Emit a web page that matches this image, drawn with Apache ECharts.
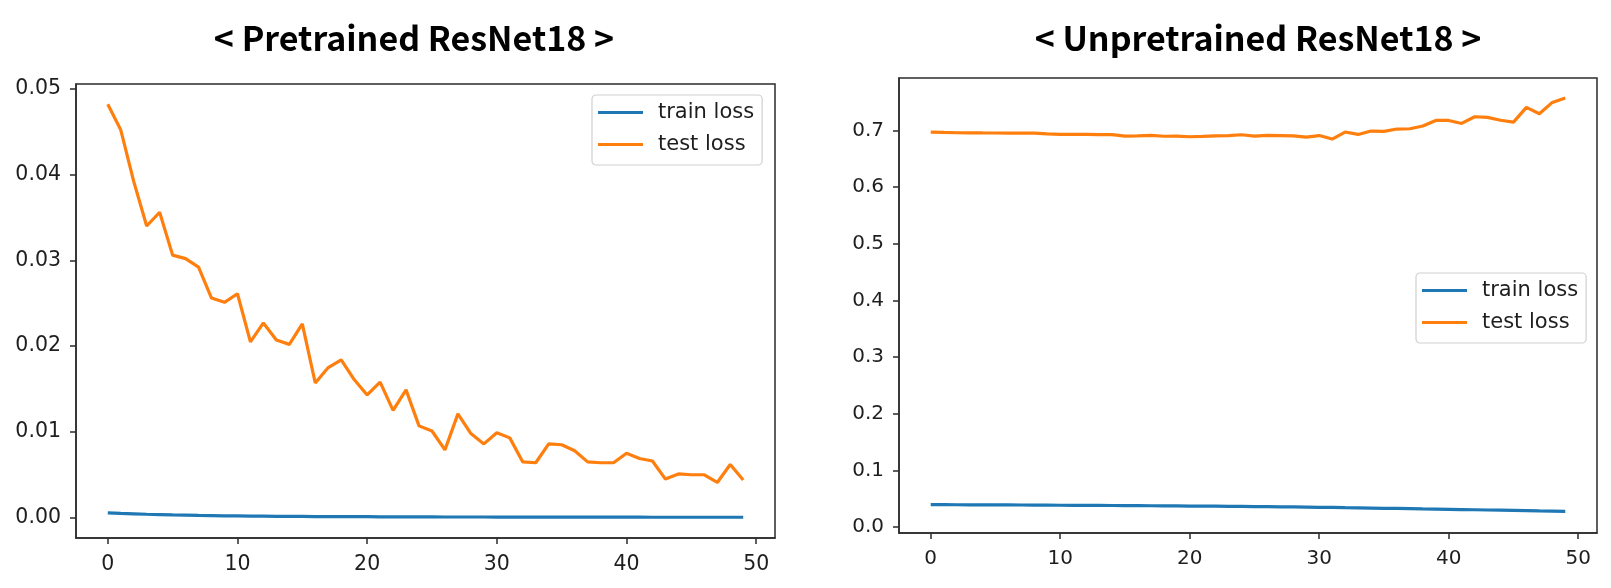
<!DOCTYPE html>
<html>
<head>
<meta charset="utf-8">
<script src="https://cdn.jsdelivr.net/npm/echarts@6/dist/echarts.min.js"></script>
<style>
  html, body { margin: 0; padding: 0; background: #fff; }
  #chart { width: 1611px; height: 588px; }
</style>
</head>
<body>
<div id="chart"></div>
<script>
// ---- data ----
const epochs = [0,1,2,3,4,5,6,7,8,9,10,11,12,13,14,15,16,17,18,19,20,21,22,23,24,25,26,27,28,29,30,31,32,33,34,35,36,37,38,39,40,41,42,43,44,45,46,47,48,49];

const pretrainedTrain = [0.00056,0.00050,0.00045,0.00040,0.00036,0.00032,0.00029,0.00026,0.00024,0.00022,
  0.00020,0.00018,0.00017,0.00016,0.00015,0.00014,0.00013,0.00012,0.00012,0.00011,
  0.00011,0.00010,0.00010,0.00009,0.00009,0.00009,0.00008,0.00008,0.00008,0.00008,
  0.00007,0.00007,0.00007,0.00007,0.00007,0.00006,0.00006,0.00006,0.00006,0.00006,
  0.00006,0.00006,0.00005,0.00005,0.00005,0.00005,0.00005,0.00005,0.00005,0.00005];

const pretrainedTest = [0.0482,0.0452,0.0392,0.0340,0.0356,0.0306,0.0302,0.0292,0.0256,0.0251,
  0.0261,0.0205,0.0227,0.0207,0.0202,0.0226,0.0157,0.0175,0.0184,0.0161,
  0.0143,0.0158,0.0125,0.0149,0.0107,0.0101,0.0079,0.0121,0.0098,0.0086,
  0.0099,0.0093,0.0065,0.0064,0.0086,0.0085,0.0078,0.0065,0.0064,0.0064,
  0.0075,0.0069,0.0066,0.0045,0.0051,0.0050,0.0050,0.0041,0.0062,0.0044];

const unpretrainedTrain = [0.0396,0.0395,0.0394,0.0393,0.0392,0.0391,0.0390,0.0389,0.0388,0.0387,
  0.0385,0.0384,0.0383,0.0382,0.0380,0.0379,0.0378,0.0376,0.0375,0.0373,
  0.0371,0.0370,0.0368,0.0366,0.0364,0.0362,0.0360,0.0357,0.0355,0.0352,
  0.0349,0.0346,0.0342,0.0339,0.0335,0.0331,0.0328,0.0324,0.0320,0.0317,
  0.0313,0.0309,0.0305,0.0301,0.0297,0.0293,0.0289,0.0285,0.0282,0.0278];

const unpretrainedTest = [0.6972,0.6965,0.6960,0.6958,0.6956,0.6955,0.6952,0.6953,0.6954,0.6940,
  0.6932,0.6932,0.6931,0.6928,0.6925,0.6900,0.6905,0.6912,0.6898,0.6900,
  0.6889,0.6895,0.6905,0.6910,0.6924,0.6900,0.6912,0.6910,0.6906,0.6883,
  0.6910,0.6848,0.6972,0.6930,0.6990,0.6984,0.7025,0.7030,0.7078,0.7177,
  0.7177,0.7124,0.7242,0.7230,0.7180,0.7148,0.7407,0.7295,0.7495,0.7573];

const xTicks = [0,10,20,30,40,50];
const leftYTicks = [0.00,0.01,0.02,0.03,0.04,0.05];
const rightYTicks = [0.0,0.1,0.2,0.3,0.4,0.5,0.6,0.7];

const titles = ['< Pretrained ResNet18 >', '< Unpretrained ResNet18 >'];
const seriesNames = ['train loss', 'test loss'];
const colors = ['#1f77b4', '#ff7f0e'];

// ---- build ----
const pairs = arr => epochs.map((e, i) => [e, arr[i]]);
const FONT = 'DejaVu Sans';
const TXT = '#1e1e1e';
const AX = '#2b2b2b';

function xAxis(gridIndex, fs) {
  return {
    type: 'value', gridIndex, min: -2.45, max: 51.45,
    splitLine: { show: false },
    axisLine: { show: true, onZero: false, lineStyle: { color: AX, width: 1.5 } },
    axisTick: { show: true, inside: false, length: 6, lineStyle: { color: AX, width: 1.5 }, customValues: xTicks },
    axisLabel: { customValues: xTicks, color: TXT, fontFamily: FONT, fontSize: fs, margin: 16 }
  };
}
function yAxis(gridIndex, min, max, ticks, dec, fs) {
  return {
    type: 'value', gridIndex, min, max,
    splitLine: { show: false },
    axisLine: { show: true, onZero: false, lineStyle: { color: AX, width: 1.5 } },
    axisTick: { show: true, inside: false, length: 6, lineStyle: { color: AX, width: 1.5 }, customValues: ticks },
    axisLabel: { customValues: ticks, color: TXT, fontFamily: FONT, fontSize: fs, margin: 15,
      formatter: v => v.toFixed(dec) }
  };
}
function legend(left, top) {
  return {
    left, top, orient: 'vertical',
    data: seriesNames,
    backgroundColor: 'rgba(255,255,255,0.8)',
    borderColor: '#d0d0d0', borderWidth: 1.2, borderRadius: 4,
    padding: [7, 8, 10, 6],
    itemWidth: 45, itemHeight: 3, itemGap: 11,
    icon: 'rect',
    textStyle: { color: TXT, fontFamily: FONT, fontSize: 21, lineHeight: 20, padding: [0, 0, 0, 10] }
  };
}
function line(name, x, y, data, color) {
  return {
    type: 'line', name, xAxisIndex: x, yAxisIndex: y, data,
    showSymbol: false, symbol: 'none', smooth: false,
    lineStyle: { color, width: 3.2 }, itemStyle: { color },
    animation: false
  };
}

const titleStyle = { fontFamily: 'Noto Sans CJK KR', fontWeight: 'bold', fontSize: 34, color: '#000' };

const option = {
  animation: false,
  backgroundColor: '#ffffff',
  color: colors,
  title: [
    { text: titles[0], left: 409, top: 16, textAlign: 'center', textStyle: titleStyle },
    { text: titles[1], left: 1253, top: 16, textAlign: 'center', textStyle: titleStyle }
  ],
  grid: [
    { left: 76, top: 84, width: 699, height: 454, show: true, borderColor: AX, borderWidth: 1.5, backgroundColor: 'transparent' },
    { left: 899, top: 78, width: 698, height: 455, show: true, borderColor: AX, borderWidth: 1.5, backgroundColor: 'transparent' }
  ],
  xAxis: [xAxis(0, 20.5), xAxis(1, 20)],
  yAxis: [
    yAxis(0, -0.00237, 0.05055, leftYTicks, 2, 20.5),
    yAxis(1, -0.0105, 0.7926, rightYTicks, 1, 20)
  ],
  legend: [legend(592, 95), legend(1416, 273)],
  series: [
    line(seriesNames[0], 0, 0, pairs(pretrainedTrain), colors[0]),
    line(seriesNames[1], 0, 0, pairs(pretrainedTest), colors[1]),
    line(seriesNames[0], 1, 1, pairs(unpretrainedTrain), colors[0]),
    line(seriesNames[1], 1, 1, pairs(unpretrainedTest), colors[1])
  ]
};

const chart = echarts.init(document.getElementById('chart'), null, { renderer: 'canvas' });
chart.setOption(option);
</script>
</body>
</html>
